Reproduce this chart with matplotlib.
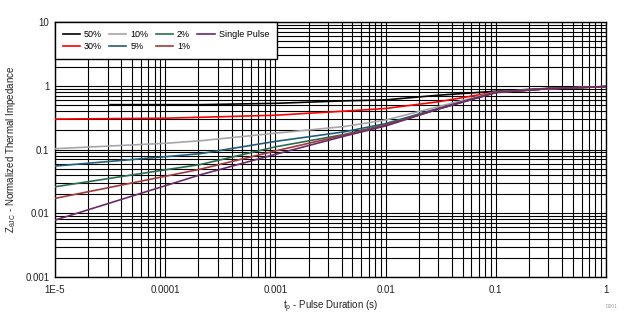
import matplotlib
matplotlib.use("Agg")
import matplotlib.pyplot as plt
from matplotlib.ticker import LogLocator, NullFormatter

plt.rcParams['font.family'] = ['Liberation Sans', 'DejaVu Sans']

# Pulse durations (s) at which each curve is sampled
t_full = [1e-5, 1e-4, 2.07e-4, 1e-3, 4.28e-3, 1e-2, 3e-2, 0.1, 0.3, 1.0]
t_50 = [3.16e-5, 1e-4, 2.07e-4, 1e-3, 4.28e-3, 1e-2, 3e-2, 0.1, 0.3, 1.0]

# Normalized thermal impedance per duty cycle
z_50 = [0.505, 0.505, 0.505, 0.53, 0.58, 0.60, 0.71, 0.82, 0.91, 0.97]
z_30 = [0.30, 0.31, 0.32, 0.345, 0.40, 0.44, 0.56, 0.80, 0.90, 0.97]
z_10 = [0.103, 0.125, 0.137, 0.18, 0.23, 0.29, 0.47, 0.80, 0.90, 0.97]
z_5 = [0.055, 0.077, 0.086, 0.134, 0.19, 0.255, 0.44, 0.79, 0.90, 0.97]
z_2 = [0.026, 0.048, 0.058, 0.11, 0.173, 0.245, 0.435, 0.79, 0.90, 0.97]
z_1 = [0.0171, 0.038, 0.049, 0.095, 0.169, 0.24, 0.43, 0.785, 0.90, 0.97]
z_single = [0.0078, 0.027, 0.040, 0.084, 0.163, 0.234, 0.43, 0.78, 0.90, 0.97]

series = [
    ("50%", t_50, z_50, "#000000"),
    ("30%", t_full, z_30, "#FF0000"),
    ("10%", t_full, z_10, "#A6A6A6"),
    ("5%", t_full, z_5, "#215E7A"),
    ("2%", t_full, z_2, "#2A6E4D"),
    ("1%", t_full, z_1, "#A33A3A"),
    ("Single Pulse", t_full, z_single, "#6B2A6B"),
]

x_ticks = [1e-5, 1e-4, 1e-3, 1e-2, 1e-1, 1]
x_tick_labels = ["1E-5", "0.0001", "0.001", "0.01", "0.1", "1"]
y_ticks = [0.001, 0.01, 0.1, 1, 10]
y_tick_labels = ["0.001", "0.01", "0.1", "1", "10"]

fig = plt.figure(figsize=(6.37, 3.29), dpi=100)
ax = fig.add_axes([55 / 637, 1 - 277 / 329, 551 / 637, 255 / 329])

for label, t, z, color in series:
    ax.plot(t, z, color=color, lw=1.2, label=label, zorder=3)

ax.set_xscale("log")
ax.set_yscale("log")
ax.set_xlim(1e-5, 1)
ax.set_ylim(0.001, 10)

ax.xaxis.set_minor_locator(LogLocator(base=10, subs=range(2, 10), numticks=20))
ax.yaxis.set_minor_locator(LogLocator(base=10, subs=range(2, 10), numticks=20))
ax.xaxis.set_minor_formatter(NullFormatter())
ax.yaxis.set_minor_formatter(NullFormatter())
ax.set_xticks(x_ticks)
ax.set_xticklabels(x_tick_labels)
ax.set_yticks(y_ticks)
ax.set_yticklabels(y_tick_labels)

ax.grid(True, which="both", color="black", lw=0.8, zorder=1)
ax.set_axisbelow(True)
ax.tick_params(which="both", length=0, labelsize=7, colors="#222222")
ax.tick_params(axis="x", pad=6)
ax.tick_params(axis="y", pad=4)
for sp in ax.spines.values():
    sp.set_color("black")
    sp.set_linewidth(1.0)

ax.set_xlabel(r"t$_\mathregular{p}$ - Pulse Duration (s)", fontsize=7, color="#222222", labelpad=2)
ax.set_ylabel(r"Z$_\mathregular{\theta JC}$ - Normalized Thermal Impedance", fontsize=7,
              color="#222222", labelpad=5)

leg = ax.legend(loc="upper left", ncol=4, fontsize=6.5, frameon=True, fancybox=False,
                framealpha=1, edgecolor="black", borderaxespad=0, handlelength=1.9,
                handletextpad=0.45, columnspacing=0.8, labelspacing=0.35, borderpad=0.85)
leg.get_frame().set_linewidth(1.0)
leg.set_zorder(5)

fig.text(612 / 637, 1 - 307 / 329, "D001", fontsize=3.5, color="#999999",
         ha="center", va="center")

fig.savefig("out.png", dpi=100)
